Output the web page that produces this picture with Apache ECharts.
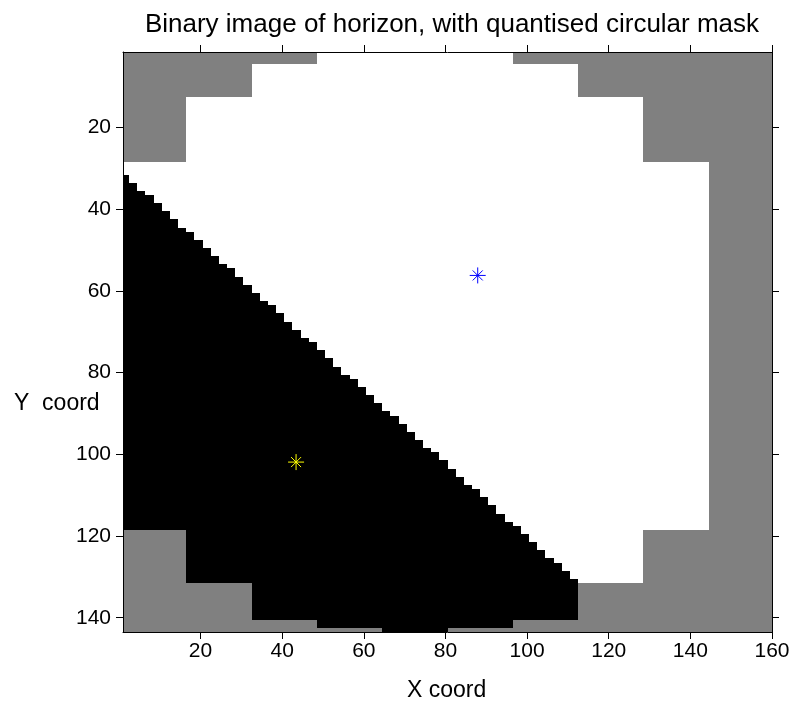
<!DOCTYPE html>
<html><head><meta charset="utf-8">
<script src="https://cdn.jsdelivr.net/npm/echarts/dist/echarts.min.js"></script>
<style>html,body{margin:0;padding:0;background:#fff}#c{width:797px;height:708px}</style>
</head><body><div id="c"></div>
<script>
// ---- data ----
const nCols = 160, nRows = 143, blockWidth = 16;
// quantised circular mask, per 16-column block: first and last row inside the mask (null = fully masked)
const maskTopRow    = [29, 13, 5, 1, 1, 1, 5, 13, 29, null];
const maskBottomRow = [118, 131, 140, 142, 143, 142, 140, 131, 118, null];
// first black (ground) row for columns 1..112
const horizonRow = [
  32,32,34,34,36,36,37,37,39,39,41,41,43,43,45,45,46,46,48,48,
  50,50,52,52,54,54,55,55,57,57,59,59,61,61,63,63,64,64,66,66,
  68,68,70,70,72,72,73,73,75,75,77,77,79,79,81,81,82,82,84,84,
  86,86,88,88,90,90,91,91,93,93,95,95,97,97,99,99,100,100,102,102,
  104,104,106,106,108,108,109,109,111,111,113,113,115,115,117,117,118,118,120,120,
  122,122,124,124,126,126,127,127,129,129,131,131
];
const starX = [87.9, 43.4];
const starY = [56.2, 101.9];
const starColors = ['#0000ff', '#ffff00'];
const xTicks = [20, 40, 60, 80, 100, 120, 140, 160];
const yTicks = [20, 40, 60, 80, 100, 120, 140];
const cellColors = ['#808080', '#ffffff', '#000000']; // masked, sky, ground

// ---- build run-length segments per column ----
const segments = [];
for (let c = 1; c <= nCols; c++) {
  const b = Math.floor((c - 1) / blockWidth);
  const top = maskTopRow[b], bot = maskBottomRow[b];
  if (top == null) { segments.push([c, 1, nRows, 0]); continue; }
  if (top > 1) segments.push([c, 1, top - 1, 0]);
  const h = c <= horizonRow.length ? horizonRow[c - 1] : Infinity;
  const whiteEnd = Math.min(bot, h - 1);
  if (whiteEnd >= top) segments.push([c, top, whiteEnd, 1]);
  if (h <= bot) segments.push([c, Math.max(h, top), bot, 2]);
  if (bot < nRows) segments.push([c, bot + 1, nRows, 0]);
}
const starData = starX.map((x, i) => [x, starY[i]]);

const FONT = 'Liberation Sans, Arial, sans-serif';
const FS = 21;
const chart = echarts.init(document.getElementById('c'), null, {renderer: 'canvas'});
const axisCommon = {
  type: 'value', z: 10,
  axisLine: {show: true, onZero: false, lineStyle: {color: '#000', width: 1}},
  axisTick: {show: true, inside: false, length: 7, lineStyle: {color: '#000', width: 1}},
  splitLine: {show: false},
};
chart.setOption({
  animation: false,
  backgroundColor: '#fff',
  title: {
    text: 'Binary image of horizon, with quantised circular mask',
    left: 447, top: 7, textAlign: 'center',
    textStyle: {fontFamily: FONT, fontSize: 26, fontWeight: 'normal', color: '#000'}
  },
  grid: {left: 123, top: 52, width: 649, height: 580, containLabel: false, outerBoundsMode: 'none'},
  xAxis: [
    Object.assign({}, axisCommon, {
      position: 'bottom', min: 1, max: 160,
      axisTick: Object.assign({}, axisCommon.axisTick, {customValues: xTicks}),
      axisLabel: {customValues: xTicks, margin: 9, color: '#000', fontFamily: FONT, fontSize: FS}
    }),
    Object.assign({}, axisCommon, {
      position: 'top', min: 1, max: 160,
      axisTick: Object.assign({}, axisCommon.axisTick, {customValues: xTicks}),
      axisLabel: {show: false}
    })
  ],
  yAxis: [
    Object.assign({}, axisCommon, {
      position: 'left', min: 1.5, max: 143.5, inverse: true,
      axisTick: Object.assign({}, axisCommon.axisTick, {customValues: yTicks}),
      axisLabel: {customValues: yTicks, margin: 12, color: '#000', fontFamily: FONT, fontSize: FS}
    }),
    Object.assign({}, axisCommon, {
      position: 'right', min: 1.5, max: 143.5, inverse: true,
      axisTick: Object.assign({}, axisCommon.axisTick, {customValues: yTicks}),
      axisLabel: {show: false}
    })
  ],
  graphic: [
    {type: 'text', left: 407, top: 679, style: {text: 'X coord', font: '23px ' + FONT, fill: '#000'}},
    {type: 'text', left: 14, top: 392, style: {text: 'Y  coord', font: '23px ' + FONT, fill: '#000'}}
  ],
  series: [
    {
      type: 'custom', xAxisIndex: 0, yAxisIndex: 0, clip: true, silent: true,
      data: segments,
      renderItem: function (params, api) {
        const c = api.value(0), r0 = api.value(1), r1 = api.value(2), k = api.value(3);
        const p0 = api.coord([c - 0.5, r0 - 0.5]);
        const p1 = api.coord([c + 0.5, r1 + 0.5]);
        const cs = params.coordSys;
        let x0 = Math.max(Math.min(p0[0], p1[0]), cs.x), x1 = Math.min(Math.max(p0[0], p1[0]), cs.x + cs.width);
        let y0 = Math.max(Math.min(p0[1], p1[1]), cs.y), y1 = Math.min(Math.max(p0[1], p1[1]), cs.y + cs.height);
        x0 = Math.round(x0); x1 = Math.round(x1); y0 = Math.round(y0); y1 = Math.round(y1);
        if (x1 <= x0 || y1 <= y0) return null;
        return {type: 'rect', shape: {x: x0, y: y0, width: x1 - x0, height: y1 - y0}, style: {fill: cellColors[k]}};
      }
    },
    {
      type: 'custom', xAxisIndex: 0, yAxisIndex: 0, silent: true, z: 5,
      data: starData,
      renderItem: function (params, api) {
        const p = api.coord([api.value(0), api.value(1)]);
        const col = starColors[params.dataIndex];
        const a = 8, d = 5;
        const st = {stroke: col, lineWidth: 1};
        return {type: 'group', children: [
          {type: 'line', shape: {x1: p[0] - a, y1: p[1], x2: p[0] + a, y2: p[1]}, style: st},
          {type: 'line', shape: {x1: p[0], y1: p[1] - a, x2: p[0], y2: p[1] + a}, style: st},
          {type: 'line', shape: {x1: p[0] - d, y1: p[1] - d, x2: p[0] + d, y2: p[1] + d}, style: st},
          {type: 'line', shape: {x1: p[0] - d, y1: p[1] + d, x2: p[0] + d, y2: p[1] - d}, style: st}
        ]};
      }
    }
  ]
});
</script>
</body></html>
